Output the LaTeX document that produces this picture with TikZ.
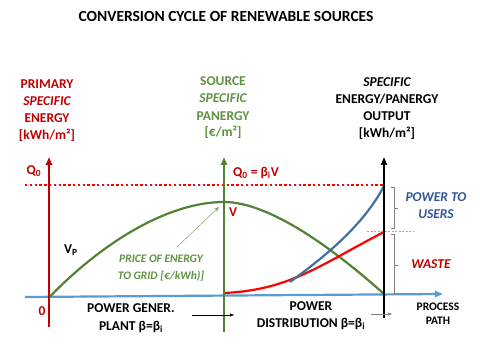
\documentclass[tikz,border=0pt]{standalone}
\usepackage{fontspec}
\setmainfont{Carlito}
\usetikzlibrary{arrows.meta}
\definecolor{dred}{HTML}{C00000}
\definecolor{bred}{HTML}{FF0000}
\definecolor{dgreen}{HTML}{548235}
\definecolor{lgreen}{HTML}{5E9140}
\definecolor{axblue}{HTML}{5B9BD5}
\definecolor{cblue}{HTML}{41719C}
\definecolor{tblue}{HTML}{2F5597}
\begin{document}
\begin{tikzpicture}[x=1pt,y=-1pt,
  lbl/.style={font=\bfseries\fontsize{13.5}{17}\selectfont, inner sep=0pt, align=center},
  lbli/.style={font=\bfseries\itshape\fontsize{13.5}{17}\selectfont, inner sep=0pt, align=center},
  axisline/.style={line width=2.4pt, -{Triangle[length=8pt,width=6pt]}},
  curveline/.style={line width=2.2pt},
  brace/.style={draw=gray, line width=0.6pt},
  smallarrow/.style={line width=0.5pt, -{Triangle[length=4pt,width=3pt]}}
]
\useasboundingbox (0,0) rectangle (480,355);
\fill[white] (0,0) rectangle (480,355);

% title
\node[lbl, font=\bfseries\fontsize{15.5}{18}\selectfont] (title) at (226,16) {CONVERSION CYCLE OF RENEWABLE SOURCES};

% axis labels
\node[lbl, text=dred] (l1a) at (47,84) {PRIMARY};
\node[lbli, text=dred] (l1b) at (47,101) {SPECIFIC};
\node[lbl, text=dred] (l1c) at (47,118) {ENERGY};
\node[lbl, text=dred] (l1d) at (47,135) {[kWh/m²]};

\node[lbl, text=lgreen] (l2a) at (223,81) {SOURCE};
\node[lbli, text=lgreen] (l2b) at (223,98) {SPECIFIC};
\node[lbl, text=lgreen] (l2c) at (223,116) {PANERGY};
\node[lbl, text=lgreen] (l2d) at (223,132) {[€/m²]};

\node[lbli] (l3a) at (387,82) {SPECIFIC};
\node[lbl] (l3b) at (387,99) {ENERGY/PANERGY};
\node[lbl] (l3c) at (387,116) {OUTPUT};
\node[lbl] (l3d) at (387,133) {[kWh/m²]};

% coordinates
\coordinate (rb) at (49,327);
\coordinate (rt) at (49,157);
\coordinate (gb) at (224,332);
\coordinate (gt) at (224,157);
\coordinate (kb) at (384,318);
\coordinate (kt) at (384,157);
\coordinate (hb) at (25,297);
\coordinate (he) at (443,294);
\coordinate (o) at (50,296.5);
\coordinate (peak) at (224,202);
\coordinate (gend) at (384,294);
\coordinate (rs) at (224,293);
\coordinate (rend) at (384,232);
\coordinate (bs) at (290,282);
\coordinate (bend) at (384,186);
\coordinate (d1) at (25,185);
\coordinate (d2) at (384,185);

% horizontal axis
\draw[axblue, line width=2.2pt, -{Triangle[length=8pt,width=6pt]}] (hb) -- (he);

% dotted Q0 line
\draw[bred, line width=2.4pt, dash pattern=on 2.4pt off 2.4pt] (d1) -- (d2);

% curves
\draw[dgreen, curveline] (o) .. controls (105,240) and (170,202) .. (peak)
      .. controls (270,202) and (335,250) .. (gend);
\draw[bred, curveline] (rs) .. controls (290,290) and (320,265) .. (rend);
\draw[cblue, curveline] (bs) .. controls (320,260) and (362,228) .. (bend);

% vertical axes
\draw[dred, axisline] (rb) -- (rt);
\draw[dgreen, axisline] (gb) -- (gt);
\draw[black, axisline, line width=1.8pt] (kb) -- (kt);

% labels on plot
\node[lbl, text=dred] (q0) at (34,171) {Q\textsubscript{0}};
\node[lbl, text=dred] (q0b) at (256,173) {Q\textsubscript{0} = β\textsubscript{i}V};
\node[lbl, text=dred] (v) at (233,212) {V};
\node[lbl] (vp) at (71,250) {V\textsubscript{P}};
\node[lbl, text=dred] (zero) at (42,311) {0};

\node[font=\bfseries\itshape\fontsize{11.5}{17.5}\selectfont, text=lgreen, inner sep=0pt, align=center] (price) at (161,268)
  {PRICE OF ENERGY\\TO GRID [€/kWh)]};
\coordinate (pa) at (177,247);
\coordinate (pb) at (219,207);
\draw[lgreen!80, line width=0.5pt, -{Stealth[length=5pt,width=4pt]}] (pa) -- (pb);

\node[lbl, font=\bfseries\fontsize{13.5}{18}\selectfont] (gen) at (131,318) {POWER GENER.\\PLANT β=β\textsubscript{i}};
\node[lbl, font=\bfseries\fontsize{13.5}{17}\selectfont] (dist) at (311,316) {POWER\\DISTRIBUTION β=β\textsubscript{i}};
\node[lbl, font=\bfseries\fontsize{11.5}{14}\selectfont] (proc) at (438,314) {PROCESS\\PATH};

\node[lbli, text=tblue] (users) at (436,205.5) {POWER TO\\USERS};
\node[lbli, text=dred] (waste) at (431,264) {WASTE};

% small arrows
\coordinate (s1a) at (192,315);
\coordinate (s1b) at (234,315);
\draw[smallarrow] (s1a) -- (s1b);
\coordinate (s2a) at (371,314);
\coordinate (s2b) at (392,314);
\draw[smallarrow, draw=gray] (s2a) -- (s2b);

% dashed separator
\coordinate (sa) at (367,231);
\coordinate (sb) at (413,231);
\draw[gray!70, line width=0.6pt, dash pattern=on 2pt off 1.5pt] (sa) -- (sb);

% braces
\draw[brace] (391,187) -- (394.5,187) -- (394.5,228) -- (391,228);
\draw[brace] (394.5,208) -- (398,208);
\draw[brace] (391,234) -- (394.5,234) -- (394.5,294) -- (391,294);
\draw[brace] (394.5,265) -- (398,265);
\end{tikzpicture}
\end{document}
